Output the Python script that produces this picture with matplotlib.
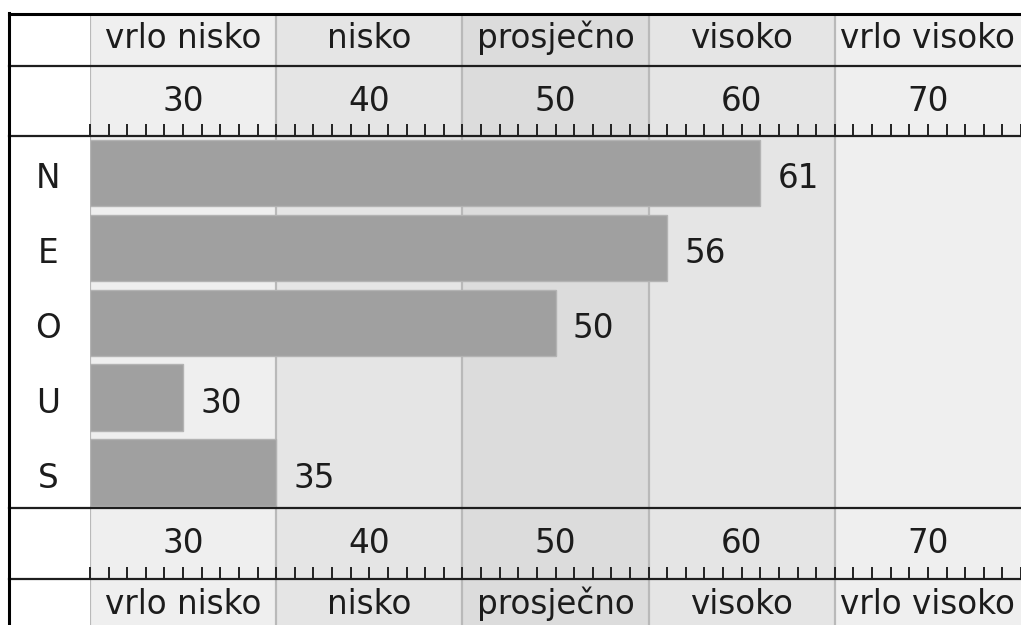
import numpy as np
import matplotlib
matplotlib.use('Agg')
import matplotlib.pyplot as plt
from matplotlib.lines import Line2D

# ---- data ----
traits = ['N', 'E', 'O', 'U', 'S']
scores = [61, 56, 50, 30, 35]
band_labels = ['vrlo nisko', 'nisko', 'prosječno', 'visoko', 'vrlo visoko']
band_edges = [25, 35, 45, 55, 65, 75]
tick_labels = [30, 40, 50, 60, 70]
minor_ticks = list(range(25, 76))

# ---- style ----
band_colors = ['#efefef', '#e5e5e5', '#dcdcdc', '#e5e5e5', '#efefef']
plt.rcParams['font.family'] = ['DejaVu Sans']
FS = 23.5
TXT = '#1c1c1c'
W, H, DPI = 1021, 625, 100

fig = plt.figure(figsize=(W / DPI, H / DPI), dpi=DPI)
fig.patch.set_facecolor('white')


def add_ax(top_px, bottom_px):
    ax = fig.add_axes([90 / W, 1 - bottom_px / H, (W - 90) / W, (bottom_px - top_px) / H])
    ax.set_xlim(band_edges[0], band_edges[-1])
    for s in ax.spines.values():
        s.set_visible(False)
    ax.set_yticks([])
    ax.set_xticks([])
    ax.patch.set_alpha(0)
    for i in range(len(band_labels)):
        ax.axvspan(band_edges[i], band_edges[i + 1], color=band_colors[i], lw=0, zorder=0)
    for e in band_edges[:-1]:
        ax.axvline(e, color='#b9b9b9', lw=1.6, zorder=0.5)
    return ax


def label_row(top_px, bottom_px, baseline_px):
    ax = add_ax(top_px, bottom_px)
    yb = 1 - (baseline_px - top_px) / (bottom_px - top_px)
    for i, lab in enumerate(band_labels):
        cx = (band_edges[i] + band_edges[i + 1]) / 2
        ax.text(cx, yb, lab, transform=ax.get_xaxis_transform(), ha='center',
                va='baseline', fontsize=FS, color=TXT)
    return ax


def number_row(top_px, bottom_px, baseline_px):
    ax = add_ax(top_px, bottom_px)
    yb = 1 - (baseline_px - top_px) / (bottom_px - top_px)
    for t in tick_labels:
        ax.text(t, yb, str(t), transform=ax.get_xaxis_transform(), ha='center',
                va='baseline', fontsize=FS, color=TXT)
    ax.set_xticks(minor_ticks)
    ax.tick_params(axis='x', direction='in', length=8.7, width=1.4, color='#222222',
                   labelbottom=False, bottom=True)
    return ax


label_row(13, 66, 48)
number_row(66, 136, 111)
number_row(508, 579, 553)
label_row(579, 632, 614)

# ---- bars ----
axb = add_ax(136, 508)
y = np.arange(len(traits))
vals = np.array(scores)
axb.barh(y, vals - band_edges[0], left=band_edges[0], height=0.888,
         color='#a0a0a0', edgecolor='#b3b3b3', linewidth=1.0, zorder=2)
axb.set_ylim(len(traits) - 1 + 0.474, -0.494)

for i, v in enumerate(scores):
    axb.annotate(str(v), xy=(v, i), xytext=(12.5, -10.8), textcoords='offset points',
                 ha='left', va='baseline', fontsize=FS, color=TXT)

for i, t in enumerate(traits):
    axb.annotate(t, xy=(48 / W, i), xycoords=('figure fraction', 'data'),
                 xytext=(0, -10.8), textcoords='offset points',
                 ha='center', va='baseline', fontsize=FS, color=TXT,
                 annotation_clip=False)

# ---- frame lines ----
def hline(ypx, lw, color):
    fig.add_artist(Line2D([9 / W, 1], [1 - ypx / H] * 2, color=color, lw=lw, zorder=5))

hline(13.5, 2.2, '#000000')
for ypx in (66, 136, 508, 579):
    hline(ypx, 1.6, '#1e1e1e')
fig.add_artist(Line2D([9 / W] * 2, [1 - 12.5 / H, 0], color='#000000', lw=2.2, zorder=5))

fig.savefig('out.png', dpi=DPI)
